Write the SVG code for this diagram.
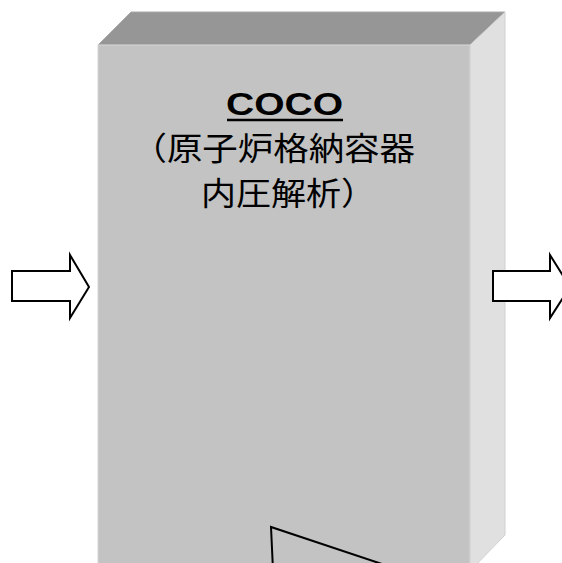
<svg xmlns="http://www.w3.org/2000/svg" width="562" height="563" viewBox="0 0 562 563">
<style>
.arrow{fill:#ffffff;stroke:#000000;stroke-width:2;stroke-linejoin:miter}
.jp{font-family:"Noto Sans CJK JP","Liberation Sans",sans-serif;font-size:32px;fill:#000}
.title{font-family:"Liberation Sans",Arial,sans-serif;font-size:32px;font-weight:bold;fill:#000}
</style>
<rect width="562" height="563" fill="#ffffff"/>
<g id="box">
<polygon points="98,45 131,12 505,12 470,45" fill="#969696" stroke="#a8a8a8" stroke-width="1"/>
<polygon points="470,45 505,12 505,535 470,571" fill="#e0e0e0" stroke="#d0d0d0" stroke-width="1"/>
<rect x="98" y="45" width="372" height="530" fill="#c3c3c3" stroke="#d6d6d6" stroke-width="1"/>
<text class="title" x="226" y="115" textLength="117" lengthAdjust="spacingAndGlyphs">COCO</text>
<line x1="227" y1="120" x2="343" y2="120" stroke="#000" stroke-width="2.5"/>
<text class="jp" x="131.5" y="160" textLength="283.5" lengthAdjust="spacingAndGlyphs">（原子炉格納容器</text>
<text class="jp" x="201" y="205" textLength="175" lengthAdjust="spacingAndGlyphs">内圧解析）</text>
</g>
<g id="connectors">
<polygon id="arrow-in" class="arrow" points="12,271 70,271 70,255 89,287 70,318 70,301 12,301"/>
<polygon id="arrow-out" class="arrow" points="493,271 550,271 550,255 570,287 550,318 550,301 493,301"/>
<polyline id="wedge" points="273,570 271,527 400,570" fill="none" stroke="#000" stroke-width="2"/>
</g>
</svg>
